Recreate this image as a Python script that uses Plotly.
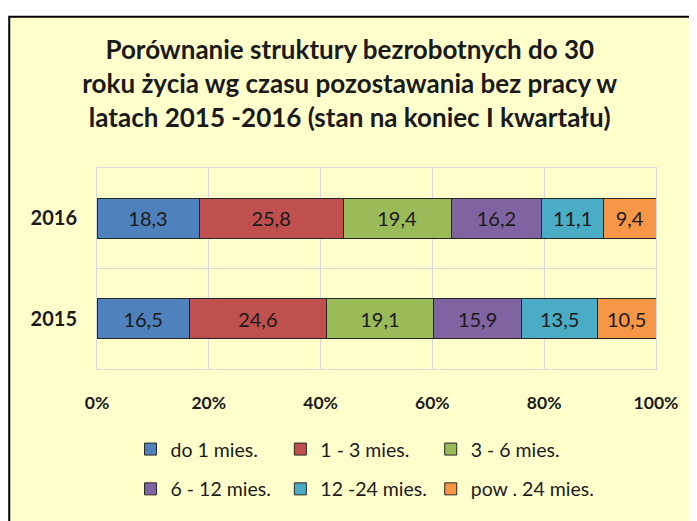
import plotly.graph_objects as go

# dane (udział %, koniec I kwartału)
years = ['2015', '2016']
categories = ['do 1 mies.', '1 - 3 mies.', '3 - 6 mies.',
              '6 - 12 mies.', '12 -24 mies.', 'pow . 24 mies.']
values_2015 = [16.5, 24.6, 19.1, 15.9, 13.5, 10.5]
values_2016 = [18.3, 25.8, 19.4, 16.2, 11.1, 9.4]
colors = ['#4F81BD', '#C0504D', '#9BBB59', '#8064A2', '#4BACC6', '#F79646']

FONT = 'Lato'
BG = '#FFFFCC'
GRID = '#D9D9D9'
INK = '#1a1a1a'

legend_ids = ['legend', 'legend2', 'legend3', 'legend4', 'legend5', 'legend6']
legend_x = [0.06, 0.328, 0.597]
legend_y = [-0.4, -0.598]

fig = go.Figure()
for i, cat in enumerate(categories):
    vals = [values_2015[i], values_2016[i]]
    fig.add_trace(go.Bar(
        y=years, x=vals, name=cat, orientation='h',
        marker=dict(color=colors[i], line=dict(color='#262626', width=1)),
        text=[f'{v:.1f}'.replace('.', ',') for v in vals],
        textposition='inside', insidetextanchor='middle', textangle=0,
        constraintext='none',
        textfont=dict(family=FONT, size=20, color=INK),
        legend=legend_ids[i],
    ))

# ramka wykresu
fig.add_shape(type='rect', xref='paper', yref='paper',
              x0=-0.157, x1=1.2, y0=-0.9, y1=1.752,
              fillcolor=BG, line=dict(color='black', width=2), layer='below')

# jedna legenda na pozycję -> układ 3 + 3 jak w oryginale
legends = {}
for i, lid in enumerate(legend_ids):
    legends[lid] = dict(orientation='h', xanchor='left', x=legend_x[i % 3],
                        yanchor='middle', y=legend_y[i // 3],
                        bgcolor='rgba(0,0,0,0)',
                        font=dict(family=FONT, size=19.5, color=INK))

fig.update_layout(
    width=689, height=513,
    margin=dict(l=89, r=41, t=160, b=145),
    paper_bgcolor='white', plot_bgcolor=BG,
    barmode='stack', barnorm='percent', bargap=0.6,
    title=dict(
        text='Porównanie struktury bezrobotnych do 30<br>'
             'roku życia wg czasu pozostawania bez pracy w<br>'
             'latach 2015 -2016 (stan na koniec I kwartału)',
        x=0.496, xanchor='center', y=0.9, yanchor='middle',
        font=dict(family=FONT, size=26, color=INK, weight='bold')),
    xaxis=dict(range=[0, 100], dtick=20, ticksuffix='%', showgrid=True,
               gridcolor=GRID, zeroline=False, showline=True, mirror=True,
               linecolor=GRID, linewidth=1, ticks='', ticklen=0,
               ticklabelstandoff=18,
               tickfont=dict(family=FONT, size=17.5, color=INK, weight='bold')),
    yaxis=dict(type='category', tickson='boundaries', showgrid=True,
               gridcolor=GRID, showline=True, mirror=True, linecolor=GRID,
               ticks='', ticklen=0, ticklabelstandoff=15,
               tickfont=dict(family=FONT, size=20, color=INK, weight='bold')),
    showlegend=True,
    **legends,
)

fig.write_html('out.html')
